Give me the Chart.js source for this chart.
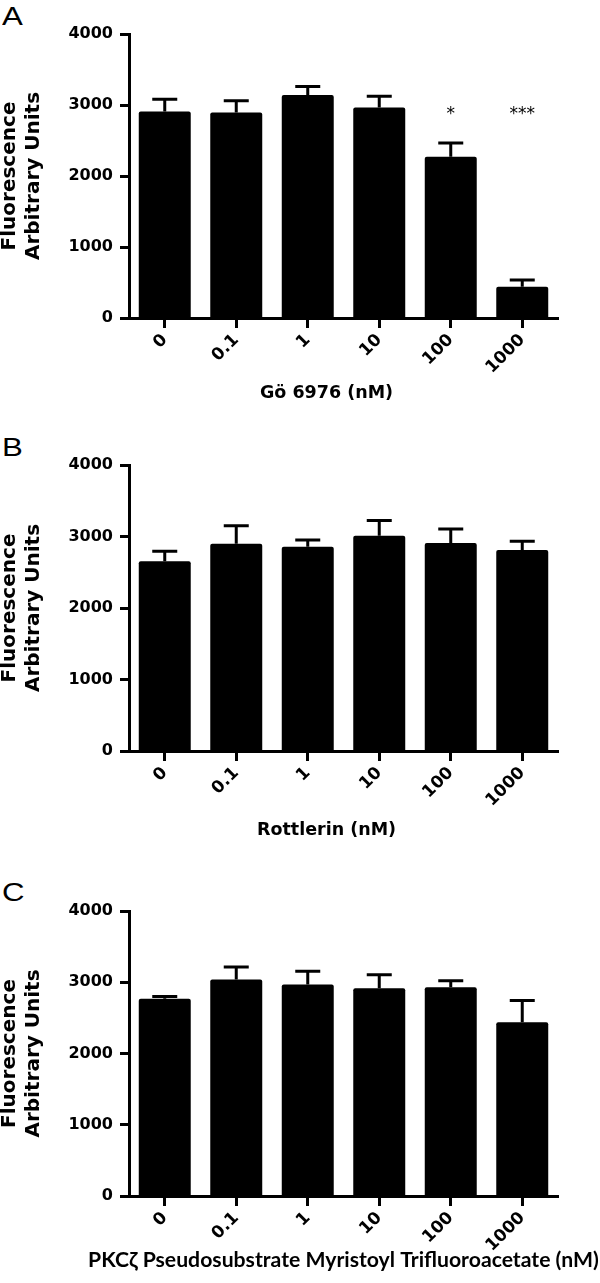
<!DOCTYPE html>
<html>
<head>
<meta charset="utf-8">
<script src="https://cdn.jsdelivr.net/npm/chart.js@4"></script>
<style>
  body { margin: 0; background: #fff; }
  #wrap { position: relative; width: 600px; height: 1283px; }
  .panel { position: absolute; left: 0; }
  .letter {
    position: absolute; left: 2px;
    font: 26px/26px "Liberation Sans", Arial, sans-serif;
    transform: scaleX(1.2); transform-origin: left top;
  }
</style>
</head>
<body>
<div id="wrap">
  <div class="letter" style="top:3px">A</div>
  <canvas class="panel" id="chartA" width="600" height="430" style="top:0"></canvas>
  <div class="letter" style="top:434px">B</div>
  <canvas class="panel" id="chartB" width="600" height="430" style="top:430px"></canvas>
  <div class="letter" style="top:879px">C</div>
  <canvas class="panel" id="chartC" width="600" height="423" style="top:860px"></canvas>
</div>
<script>
const doses = ['0', '0.1', '1', '10', '100', '1000'];

// Gö 6976
const goMean = [2910, 2895, 3140, 2965, 2270, 440];
const goSem = [170, 165, 120, 160, 195, 95];
const goStars = ['', '', '', '', '*', '***'];

// Rottlerin
const rottMean = [2655, 2900, 2855, 3010, 2910, 2810];
const rottSem = [140, 250, 95, 215, 195, 125];

// PKCzeta pseudosubstrate
const pkcMean = [2770, 3040, 2970, 2915, 2930, 2440];
const pkcSem = [30, 175, 185, 190, 90, 305];

const yMax = 4000;
const yStep = 1000;

Chart.defaults.font.family = '"DejaVu Sans", sans-serif';
Chart.defaults.font.weight = 'bold';
Chart.defaults.color = '#000';

// error bars (upper only) + significance stars
const errorBars = {
  id: 'errorBars',
  afterDatasetsDraw(chart) {
    const ctx = chart.ctx;
    const y = chart.scales.y;
    chart.data.datasets.forEach((ds, di) => {
      const meta = chart.getDatasetMeta(di);
      meta.data.forEach((bar, i) => {
        const top = y.getPixelForValue(ds.data[i] + ds.errors[i]);
        ctx.save();
        ctx.strokeStyle = '#000';
        ctx.lineWidth = 3;
        ctx.beginPath();
        ctx.moveTo(bar.x, bar.y);
        ctx.lineTo(bar.x, top);
        ctx.moveTo(bar.x - 12.5, top);
        ctx.lineTo(bar.x + 12.5, top);
        ctx.stroke();
        if (ds.stars && ds.stars[i]) {
          ctx.fillStyle = '#000';
          ctx.font = '17px "DejaVu Sans", sans-serif';
          ctx.textAlign = 'center';
          ctx.textBaseline = 'middle';
          ctx.fillText(ds.stars[i], bar.x, y.getPixelForValue(2870));
        }
        ctx.restore();
      });
    });
  }
};

// x-axis title drawn by hand so it can run wider than the plot area
const xTitle = {
  id: 'xTitle',
  afterDraw(chart, args, opts) {
    const ctx = chart.ctx;
    const area = chart.chartArea;
    ctx.save();
    ctx.fillStyle = '#000';
    ctx.font = opts.font;
    ctx.textAlign = 'center';
    ctx.textBaseline = 'middle';
    ctx.fillText(opts.text, (area.left + area.right) / 2 + opts.dx, opts.y);
    ctx.restore();
  }
};

function makeChart(id, mean, sem, stars, title, box) {
  const h = document.getElementById(id).height;
  return new Chart(document.getElementById(id), {
    type: 'bar',
    data: {
      labels: doses,
      datasets: [{
        data: mean,
        errors: sem,
        stars: stars,
        backgroundColor: '#000',
        borderRadius: 2,
        barPercentage: 0.727,
        categoryPercentage: 1
      }]
    },
    options: {
      responsive: false,
      animation: false,
      layout: { padding: { top: box.top, right: 42, left: 0, bottom: 0 } },
      plugins: {
        legend: { display: false },
        tooltip: { enabled: false },
        xTitle: { text: title, font: box.titleFont, y: box.titleY, dx: box.titleDx }
      },
      scales: {
        x: {
          afterFit(scale) { scale.height = h - box.bottom; },
          grid: { offset: false, drawOnChartArea: false, tickLength: 10, tickWidth: 3, tickColor: '#000' },
          border: { color: '#000', width: 3 },
          ticks: { font: { size: 17 }, maxRotation: 45, minRotation: 45, padding: 2 }
        },
        y: {
          min: 0,
          max: yMax,
          afterFit(scale) { scale.width = 129; },
          grid: { drawOnChartArea: false, tickLength: 9, tickWidth: 3, tickColor: '#000' },
          border: { color: '#000', width: 3 },
          ticks: { stepSize: yStep, font: { size: 16 }, padding: 7, callback: v => String(v) },
          title: {
            display: true,
            text: ['Fluorescence', 'Arbitrary Units'],
            font: { size: 20, lineHeight: 1.2 },
            padding: { top: -2, bottom: 0 }
          }
        }
      }
    },
    plugins: [errorBars, xTitle]
  });
}

makeChart('chartA', goMean, goSem, goStars, 'Gö 6976 (nM)',
  { top: 34, bottom: 318, titleY: 393, titleDx: -17, titleFont: 'bold 17.5px "DejaVu Sans", sans-serif' });
makeChart('chartB', rottMean, rottSem, null, 'Rottlerin (nM)',
  { top: 35, bottom: 321, titleY: 400, titleDx: -17, titleFont: 'bold 17.5px "DejaVu Sans", sans-serif' });
makeChart('chartC', pkcMean, pkcSem, null, 'PKCζ Pseudosubstrate Myristoyl Trifluoroacetate (nM)',
  { top: 51, bottom: 336, titleY: 400, titleDx: 0, titleFont: 'bold 21.2px Lato, sans-serif' });
</script>
</body>
</html>
